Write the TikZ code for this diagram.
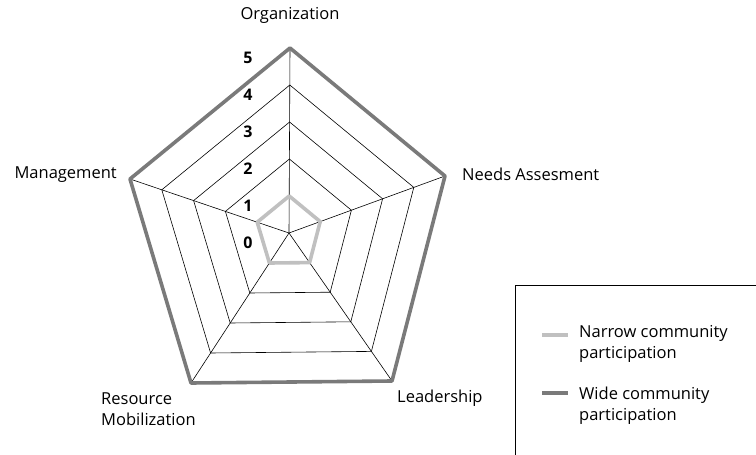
\documentclass[tikz,border=0pt]{standalone}
\usepackage{fontspec}
\setmainfont{Open Sans}
\usetikzlibrary{calc}
\definecolor{widegray}{RGB}{122,122,122}
\definecolor{narrowgray}{RGB}{192,192,192}

\begin{document}
\begin{tikzpicture}[
x=1pt, y=-1pt,
gridline/.style={draw=black, line width=0.6pt},
wideline/.style={draw=widegray, line width=3.6pt, line join=round, line cap=round},
narrowline/.style={draw=narrowgray, line width=3.6pt, line join=round},
axislabel/.style={font=\fontsize{16.5}{21}\selectfont, inner sep=0pt, align=left},
scalelabel/.style={font=\fontsize{16}{18}\selectfont\bfseries, inner sep=0pt},
legendbox/.style={draw=black, line width=1pt}]

\clip (0,0) rectangle (756,455);

\coordinate (c) at (289,233);
\coordinate (org) at (290,48);
\coordinate (need) at (445,176);
\coordinate (lead) at (392,381);
\coordinate (res) at (191,383);
\coordinate (man) at (130,179);

% spokes
\foreach \v in {org,need,lead,res,man}
  \draw[gridline] (c) -- (\v);

% rings
\foreach \k in {1,2,3,4}
  \draw[gridline] ($(c)!\k/5!(org)$) -- ($(c)!\k/5!(need)$) -- ($(c)!\k/5!(lead)$)
    -- ($(c)!\k/5!(res)$) -- ($(c)!\k/5!(man)$) -- cycle;

% data
\draw[narrowline] ($(c)!1/5!(org)$) -- ($(c)!1/5!(need)$) -- ($(c)!1/5!(lead)$)
  -- ($(c)!1/5!(res)$) -- ($(c)!1/5!(man)$) -- cycle;
\draw[wideline] (org) -- (need) -- (lead) -- (res) -- (man) -- cycle;

% scale
\foreach \k in {0,...,5}
  \node[scalelabel] (s\k) at (248,{243-37*\k}) {\k};

% axis labels
\node[axislabel] (lorg) at (290,15) {Organization};
\node[axislabel, anchor=west] (lneed) at (462,174) {Needs Assesment};
\node[axislabel, anchor=east] (lman) at (117,175) {Management};
\node[axislabel, anchor=base west] (lres) at (101,425) {Resource\\Mobilization};
\node[axislabel, anchor=west] (llead) at (397,398) {Leadership};

% legend
\draw[legendbox] (515,285) rectangle (770,470);
\coordinate (na) at (542,335);
\coordinate (nb) at (568,335);
\draw[narrowline] (na) -- (nb);
\node[axislabel, anchor=base west] (narrowtxt) at (579,358) {Narrow community\\participation};
\coordinate (wa) at (542,393);
\coordinate (wb) at (568,393);
\draw[wideline, line cap=butt] (wa) -- (wb);
\node[axislabel, anchor=base west] (widetxt) at (579,420) {Wide community\\participation};
\end{tikzpicture}
\end{document}
